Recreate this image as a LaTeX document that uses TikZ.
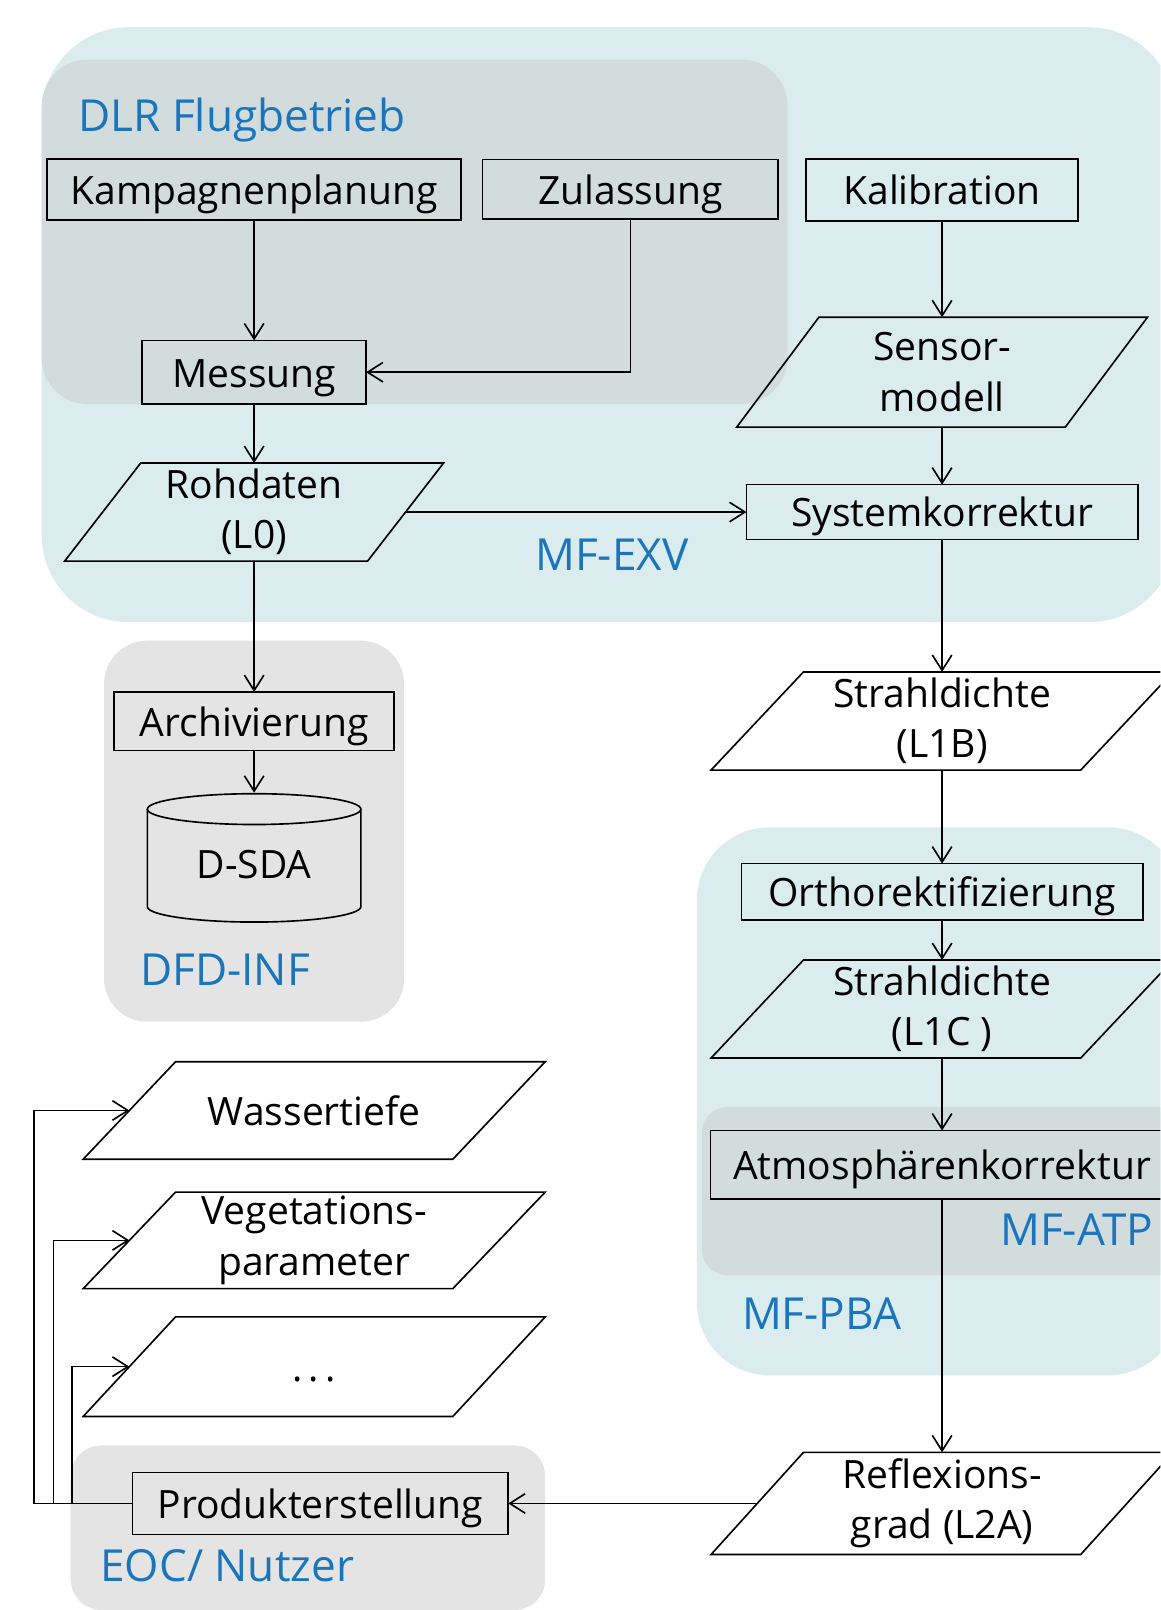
\documentclass[tikz,border=0pt]{standalone}
\usepackage{fontspec}
\setmainfont{Open Sans}
\usetikzlibrary{arrows.meta}
\definecolor{cyanbg}{RGB}{218,236,238}
\definecolor{graybg}{RGB}{210,220,221}
\definecolor{lightgraybg}{RGB}{228,228,228}
\definecolor{labelblue}{RGB}{27,117,188}
\newcommand\paraoutline[2]{\draw[shapeline] ([xshift=#2]#1.north west) -- ([xshift=#2]#1.north east) -- ([xshift=-#2]#1.south east) -- ([xshift=-#2]#1.south west) -- cycle;}
\begin{document}
\begin{tikzpicture}[x=1pt,y=-1pt,
  shapeline/.style={line width=1.6pt, line join=miter},
  box/.style={draw, line width=1.6pt, inner sep=0pt, outer sep=0pt, font=\fontsize{38}{49}\selectfont, text height=36pt, text depth=7pt},
  para/.style={inner sep=0pt, outer sep=0pt, align=center, font=\fontsize{38}{49}\selectfont},
  oneline/.style={text height=36pt, text depth=7pt},
  region/.style={font=\fontsize{43}{50}\selectfont, text=labelblue, anchor=base west, inner sep=0pt},
  arr/.style={line width=1.6pt, -{Straight Barb[length=15pt,width=19pt]}}]
\useasboundingbox (0,0) rectangle (1130,1568);
\clip (0,0) rectangle (1130,1568);
\fill[white] (0,0) rectangle (1130,1568);
% group backgrounds
\fill[cyanbg, rounded corners=85pt] (40.6,26.5) rectangle (1145,606);
\fill[graybg, rounded corners=45pt] (40.6,58) rectangle (767,393.6);
\fill[lightgraybg, rounded corners=42pt] (101.3,624) rectangle (393.6,995);
\fill[cyanbg, rounded corners=71pt] (678.7,805.7) rectangle (1150,1339.5);
\fill[graybg, rounded corners=25pt] (683.6,1078) rectangle (1170,1242);
\fill[lightgraybg, rounded corners=30pt] (68.9,1407.7) rectangle (531,1568);
% group labels
\node[region] (lbldlr) at (76,128) {DLR Flugbetrieb};
\node[region] (lblexv) at (521,556) {MF-EXV};
\node[region] (lbldfd) at (136.4,959.6) {DFD-INF};
\node[region] (lblatp) at (974,1213) {MF-ATP};
\node[region] (lblpba) at (722.5,1294.7) {MF-PBA};
\node[region] (lbleoc) at (97.4,1540) {EOC/ Nutzer};
% nodes
\node[box, minimum width=403pt, minimum height=59pt] (kamp) at (247.5,184.5) {Kampagnenplanung};
\node[box, minimum width=288pt, minimum height=58pt] (zul) at (614,184.5) {Zulassung};
\node[box, minimum width=265pt, minimum height=60pt] (kal) at (917.5,185) {Kalibration};
\node[box, minimum width=218pt, minimum height=62pt] (mess) at (247.5,362.5) {Messung};
\node[para, minimum width=320pt, minimum height=107pt] (sensor) at (917.5,362.5) {Sensor-\\modell};
\paraoutline{sensor}{40pt}
\node[para, minimum width=295pt, minimum height=95.5pt] (roh) at (247.5,498.7) {Rohdaten\\(L0)};
\paraoutline{roh}{37pt}
\node[box, minimum width=381pt, minimum height=53.5pt] (sys) at (917.5,498.7) {Systemkorrektur};
\node[box, minimum width=273pt, minimum height=57pt] (arch) at (247.5,702.5) {Archivierung};
\node[inner sep=0pt, outer sep=0pt, minimum width=208pt, minimum height=126pt, font=\fontsize{38}{49}\selectfont, text height=48pt, text depth=7pt] (dsda) at (247.5,835) {D-SDA};
\draw[shapeline] (143.5,788) -- (143.5,883) arc[start angle=180, end angle=360, x radius=104pt, y radius=15pt] -- (351.5,788);
\draw[shapeline] (247.5,788) ellipse [x radius=104pt, y radius=15pt];
\node[para, minimum width=360pt, minimum height=95.6pt] (lb) at (917.5,702.2) {Strahldichte\\(L1B)};
\paraoutline{lb}{45pt}
\node[box, minimum width=391pt, minimum height=55pt] (ortho) at (917.5,868.5) {Orthorektifizierung};
\node[para, minimum width=360pt, minimum height=95.5pt] (lc) at (917.5,982.7) {Strahldichte\\(L1C )};
\paraoutline{lc}{45pt}
\node[box, minimum width=451pt, minimum height=67pt] (atmos) at (917.5,1134.5) {Atmosphärenkorrektur};
\node[para, minimum width=360pt, minimum height=99.5pt] (refl) at (917.5,1464.2) {Reflexions-\\grad (L2A)};
\paraoutline{refl}{45pt}
\node[para, oneline, minimum width=360pt, minimum height=95pt] (wass) at (306,1081.5) {Wassertiefe};
\paraoutline{wass}{45pt}
\node[para, minimum width=360pt, minimum height=94pt] (veg) at (306,1208) {Vegetations-\\parameter};
\paraoutline{veg}{45pt}
\node[para, oneline, minimum width=360pt, minimum height=97pt] (dots) at (306,1331) {.\kern6pt.\kern6pt.};
\paraoutline{dots}{45pt}
\node[box, minimum width=366pt, minimum height=60.5pt] (prod) at (312,1464.2) {Produkterstellung};
% connectors
\draw[arr] (kamp.south) -- (mess.north);
\draw[arr] (zul.south) |- (mess.east);
\draw[arr] (kal.south) -- (sensor.north);
\draw[arr] (sensor.south) -- (sys.north);
\draw[arr] (mess.south) -- (roh.north);
\draw[arr] (roh.east) -- (sys.west);
\draw[arr] (roh.south) -- (arch.north);
\draw[arr] (arch.south) -- (dsda.north);
\draw[arr] (sys.south) -- (lb.north);
\draw[arr] (lb.south) -- (ortho.north);
\draw[arr] (ortho.south) -- (lc.north);
\draw[arr] (lc.south) -- (atmos.north);
\draw[arr] (atmos.south) -- (refl.north);
\draw[arr] (refl.west) -- (prod.east);
\draw[arr] (prod.west) -- ++(-96pt,0pt) |- (wass.west);
\draw[arr] (prod.west) -- ++(-77pt,0pt) |- (veg.west);
\draw[arr] (prod.west) -- ++(-59pt,0pt) |- (dots.west);
\end{tikzpicture}
\end{document}
